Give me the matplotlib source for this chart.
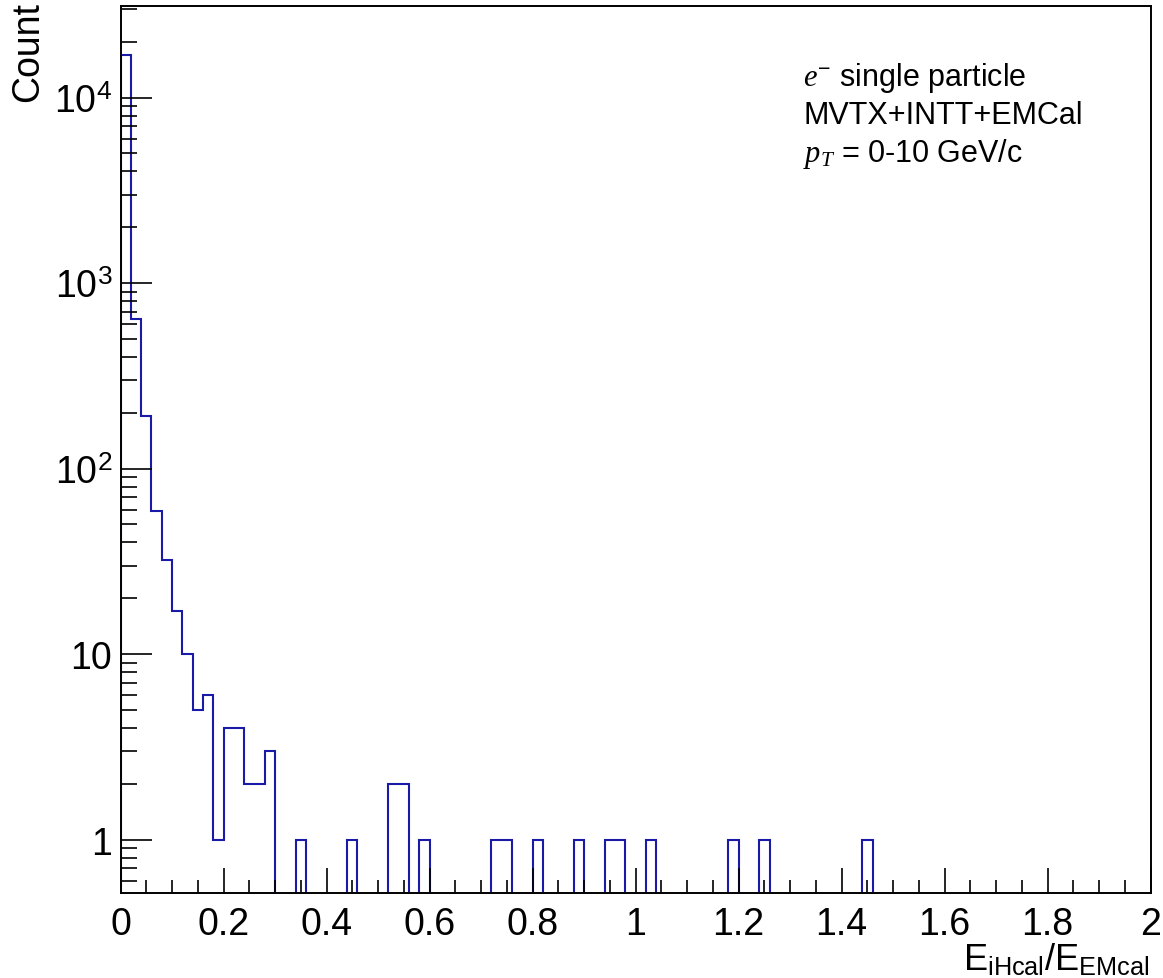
import numpy as np
import matplotlib
matplotlib.use("Agg")
import matplotlib.pyplot as plt
from matplotlib.ticker import MultipleLocator, LogLocator, NullFormatter

plt.rcParams['font.family'] = ['Liberation Sans', 'DejaVu Sans']
plt.rcParams['mathtext.fontset'] = 'custom'
plt.rcParams['mathtext.rm'] = 'Liberation Sans'
plt.rcParams['mathtext.it'] = 'Liberation Serif:italic'
plt.rcParams['mathtext.bf'] = 'Liberation Sans:bold'
plt.rcParams['mathtext.sf'] = 'Liberation Sans'

# histogram: 100 bins between 0 and 2
x_min, x_max, n_bins = 0.0, 2.0, 100
counts = [
    16900, 644, 192, 59, 32, 17, 10, 5, 6, 1,
    4, 4, 2, 2, 3, 0, 0, 1, 0, 0,
    0, 0, 1, 0, 0, 0, 2, 2, 0, 1,
    0, 0, 0, 0, 0, 0, 1, 1, 0, 0,
    1, 0, 0, 0, 1, 0, 0, 1, 1, 0,
    0, 1, 0, 0, 0, 0, 0, 0, 0, 1,
    0, 0, 1, 0, 0, 0, 0, 0, 0, 0,
    0, 0, 1, 0, 0, 0, 0, 0, 0, 0,
    0, 0, 0, 0, 0, 0, 0, 0, 0, 0,
    0, 0, 0, 0, 0, 0, 0, 0, 0, 0,
]
y_ticks = [1, 10, 100, 1000, 10000]
y_tick_labels = ['1', '10', r'$10^{2}$', r'$10^{3}$', r'$10^{4}$']
info_lines = [r'$e^{-}$ single particle', 'MVTX+INTT+EMCal', r'$p_{T}$ = 0-10 GeV/c']

W, H = 1163, 979
fig = plt.figure(figsize=(W / 100, H / 100), dpi=100)
ax = fig.add_axes([120.5 / W, (H - 894.3) / H, (1150.7 - 120.5) / W, (894.3 - 7) / H])

edges = np.linspace(x_min, x_max, n_bins + 1)
vals = np.array(counts, dtype=float)
vals = np.where(vals > 0, vals, 1e-3)  # empty bins drop below the axis like ROOT
ax.stairs(vals, edges, baseline=1e-3, color='#1a1aa8', lw=1.5)

ax.set_yscale('log')
ax.set_xlim(x_min, x_max)
ax.set_ylim(0.513, 31200)

ax.xaxis.set_major_locator(MultipleLocator(0.2))
ax.xaxis.set_minor_locator(MultipleLocator(0.05))
ax.xaxis.set_major_formatter(plt.FuncFormatter(lambda v, p: '%g' % round(v, 2)))
ax.set_yticks(y_ticks, y_tick_labels)
ax.yaxis.set_minor_locator(LogLocator(base=10, subs=np.arange(2, 10)))
ax.yaxis.set_minor_formatter(NullFormatter())

ax.tick_params(which='both', direction='in', top=False, right=False, width=1.2, labelsize=27)
ax.tick_params(axis='x', which='major', length=18, pad=9)
ax.tick_params(axis='x', which='minor', length=9.5)
ax.tick_params(axis='y', which='major', length=22, pad=6)
ax.tick_params(axis='y', which='minor', length=11.5)
for s in ax.spines.values():
    s.set_linewidth(1.4)

fig.text(28 / W, 1 - 2 / H, 'Count', rotation=90, ha='center', va='top', fontsize=27)
fig.text(1150 / W, 1 - 971 / H, r'$\mathrm{E}_{\mathrm{iHcal}}/\mathrm{E}_{\mathrm{EMcal}}$',
         ha='right', va='baseline', fontsize=26)

for i, line in enumerate(info_lines):
    fig.text(803 / W, 1 - (86 + 38 * i) / H, line, ha='left', va='baseline', fontsize=22)

fig.savefig('out.png', dpi=100)
